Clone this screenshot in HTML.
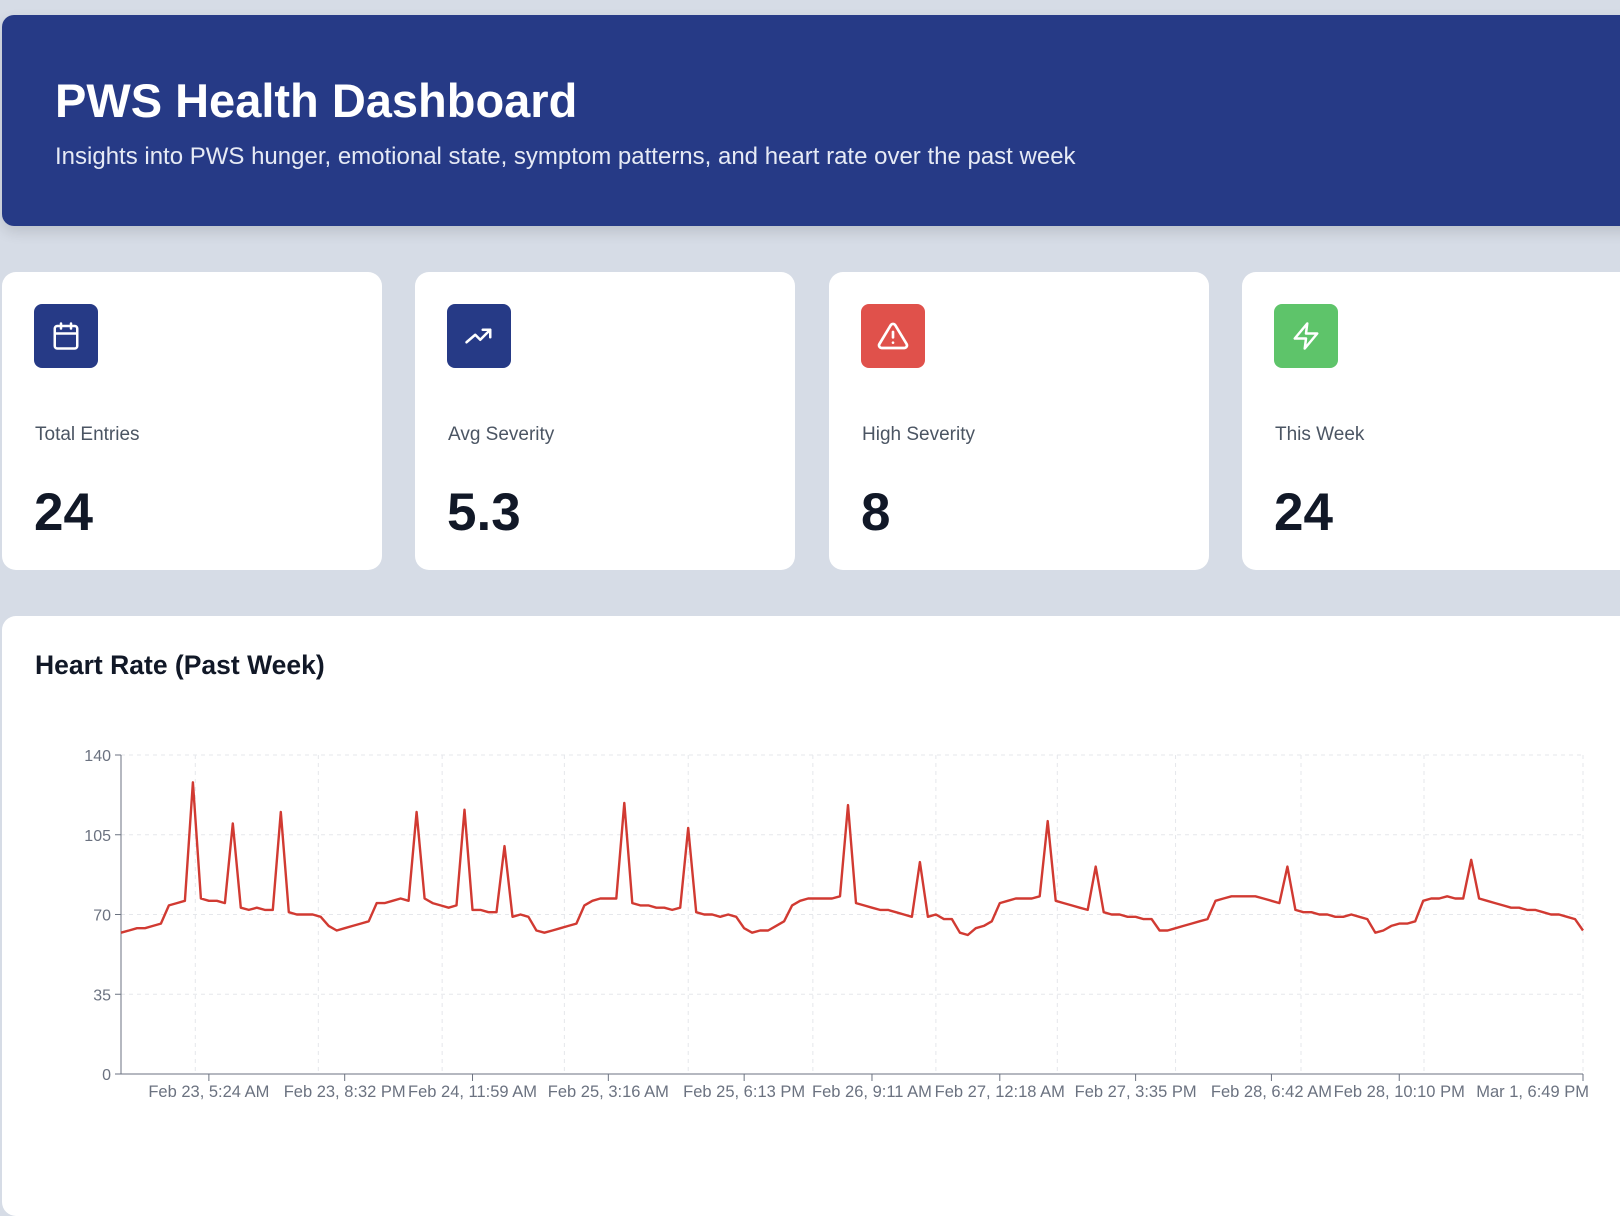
<!DOCTYPE html>
<html><head><meta charset="utf-8"><style>
body{margin:0;width:1620px;height:1154px;overflow:hidden;background:#d6dce6;font-family:"Liberation Sans",sans-serif;position:relative}
.hdr{position:absolute;left:2px;top:15px;width:1640px;height:211px;background:#263a86;border-radius:12px;box-shadow:0 6px 14px rgba(0,0,0,.12)}
.hdr h1{position:absolute;left:53px;top:62px;margin:0;font-size:47px;font-weight:bold;color:#fff;line-height:1}
.hdr p{position:absolute;left:53px;top:128px;margin:0;font-size:24px;color:#e6eaf5;line-height:1.2}
.card{position:absolute;top:272px;width:380px;height:298px;background:#fff;border-radius:14px}
.ic{position:absolute;left:32px;top:32px;width:64px;height:64px;border-radius:8px;display:flex;align-items:center;justify-content:center}
.lbl{position:absolute;left:33px;top:152px;font-size:19px;color:#4b5563}
.val{position:absolute;left:32px;top:210px;font-size:53px;font-weight:bold;color:#111827}
.chart{position:absolute;left:2px;top:616px;width:1660px;height:600px;background:#fff;border-radius:14px}
.chart h2{position:absolute;left:33px;top:34px;margin:0;font-size:26.5px;font-weight:bold;color:#111827}
</style></head><body>
<div class="hdr">
<h1>PWS Health Dashboard</h1>
<p>Insights into PWS hunger, emotional state, symptom patterns, and heart rate over the past week</p>
</div>
<div class="card" style="left:2px">
<div class="ic" style="background:#263a86"><svg width="30" height="30" viewBox="0 0 24 24" fill="none" stroke="#fff" stroke-width="2" stroke-linecap="round"><rect x="3" y="4" width="18" height="18" rx="2"/><path d="M8 2v4M16 2v4M3 10h18"/></svg></div>
<div class="lbl">Total Entries</div>
<div class="val">24</div></div>
<div class="card" style="left:415px">
<div class="ic" style="background:#263a86"><svg width="30" height="30" viewBox="0 0 24 24" fill="none" stroke="#fff" stroke-width="2" stroke-linecap="round" stroke-linejoin="round"><path d="M2 17l7-6 4 4 8-8M15 7h6v6"/></svg></div>
<div class="lbl">Avg Severity</div>
<div class="val">5.3</div></div>
<div class="card" style="left:829px">
<div class="ic" style="background:#e0514b"><svg width="32" height="32" viewBox="0 0 24 24" fill="none" stroke="#fff" stroke-width="2" stroke-linecap="round" stroke-linejoin="round"><path d="M10.3 3.9L1.8 18a2 2 0 001.7 3h17a2 2 0 001.7-3L13.7 3.9a2 2 0 00-3.4 0zM12 9v4M12 17h.01"/></svg></div>
<div class="lbl">High Severity</div>
<div class="val">8</div></div>
<div class="card" style="left:1242px;width:400px">
<div class="ic" style="background:#5ec46a"><svg width="30" height="30" viewBox="0 0 24 24" fill="none" stroke="#fff" stroke-width="2" stroke-linejoin="round"><path d="M13 2L3 14h9l-1 8 10-12h-9l1-8z"/></svg></div>
<div class="lbl">This Week</div>
<div class="val">24</div></div>
<div class="chart">
<h2>Heart Rate (Past Week)</h2>
</div>
<svg id="plot" width="1620" height="1154" style="position:absolute;left:0;top:0"></svg>
<script>
const hrValues=[62,63,64,64,65,66,74,75,76,128,77,76,76,75,110,73,72,73,72,72,115,71,70,70,70,69,65,63,64,65,66,67,75,75,76,77,76,115,77,75,74,73,74,116,72,72,71,71,100,69,70,69,63,62,63,64,65,66,74,76,77,77,77,119,75,74,74,73,73,72,73,108,71,70,70,69,70,69,64,62,63,63,65,67,74,76,77,77,77,77,78,118,75,74,73,72,72,71,70,69,93,69,70,68,68,62,61,64,65,67,75,76,77,77,77,78,111,76,75,74,73,72,91,71,70,70,69,69,68,68,63,63,64,65,66,67,68,76,77,78,78,78,78,77,76,75,91,72,71,71,70,70,69,69,70,69,68,62,63,65,66,66,67,76,77,77,78,77,77,94,77,76,75,74,73,73,72,72,71,70,70,69,68,63];
const yTicks=[0,35,70,105,140];
const xTickIdx=[11,28,44,61,78,94,110,127,144,160,183];
const xTickLabels=["Feb 23, 5:24 AM","Feb 23, 8:32 PM","Feb 24, 11:59 AM","Feb 25, 3:16 AM","Feb 25, 6:13 PM","Feb 26, 9:11 AM","Feb 27, 12:18 AM","Feb 27, 3:35 PM","Feb 28, 6:42 AM","Feb 28, 10:10 PM","Mar 1, 6:49 PM"];
const gridIdx=[9.3,24.7,40.2,55.5,71,86.6,102,117.2,132,147.7,163.1,183];
const svg=document.getElementById('plot'),NS='http://www.w3.org/2000/svg';
const L=121,R=1583,T=755,B=1074,yMax=140;
const xs=i=>L+(R-L)*i/(hrValues.length-1);
const ys=v=>B-(B-T)*v/yMax;
function mk(t,a){const e=document.createElementNS(NS,t);for(const k in a)e.setAttribute(k,a[k]);svg.appendChild(e);return e;}
yTicks.forEach(v=>{const g=mk('line',{x1:L,x2:R,y1:ys(v),y2:ys(v),stroke:'#e5e7eb','stroke-dasharray':'4 4'});


const t=mk('line',{x1:L-6,x2:L,y1:ys(v),y2:ys(v),stroke:'#6b7280'});


const lb=mk('text',{x:L-10,y:ys(v)+6,'text-anchor':'end','font-size':16,fill:'#6b7280'});lb.textContent=v;

});
gridIdx.forEach(i=>{const g=mk('line',{x1:xs(i),x2:xs(i),y1:T,y2:B,stroke:'#e5e7eb','stroke-dasharray':'4 4'});

});
const ya=mk('line',{x1:L,x2:L,y1:T,y2:B,stroke:'#6b7280'});


const xa=mk('line',{x1:L,x2:R,y1:B,y2:B,stroke:'#6b7280'});


xTickIdx.forEach((i,k)=>{const t=mk('line',{x1:xs(i),x2:xs(i),y1:B,y2:B+7,stroke:'#6b7280'});


const last=k===xTickIdx.length-1;
const lb=mk('text',{x:last?xs(i)+6:xs(i),y:B+23,'text-anchor':last?'end':'middle','font-size':16.5,fill:'#6b7280'});lb.textContent=xTickLabels[k];

});
const line=mk('path',{d:hrValues.map((v,i)=>(i?'L':'M')+xs(i).toFixed(1)+','+ys(v).toFixed(1)).join(''),fill:'none',stroke:'#d13a32','stroke-width':2.4,'stroke-linejoin':'round'});


</script>
</body></html>
